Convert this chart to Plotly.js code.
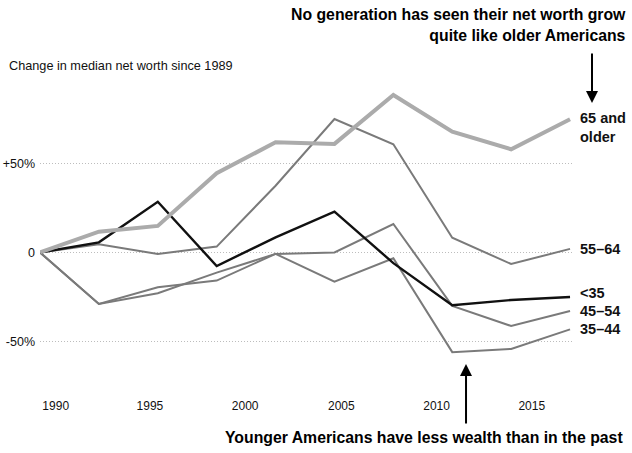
<!DOCTYPE html>
<html>
<head>
<meta charset="utf-8">
<script src="https://cdn.plot.ly/plotly-3.0.1.min.js"></script>
<style>html,body{margin:0;padding:0;background:#fff}#chart{width:632px;height:453px}</style>
</head>
<body>
<div id="chart"></div>
<script>
// Survey years
const years = [1989, 1992, 1995, 1998, 2001, 2004, 2007, 2010, 2013, 2016];
// Percent change in median net worth since 1989, by age of household head
const age65plus = [0, 11.7, 14.9, 44.5, 61.9, 61.0, 88.5, 67.9, 58.0, 74.8];
const age55to64 = [0, 4.6, -0.8, 3.3, 37.5, 75.0, 60.8, 8.3, -6.5, 2.0];
const ageUnder35 = [0, 5.7, 28.5, -7.6, 8.5, 22.9, -6.0, -29.7, -26.7, -25.0];
const age45to54 = [0, -28.9, -22.9, -11.3, -0.8, 0.0, 16.0, -30.0, -41.3, -32.9];
const age35to44 = [0, -28.9, -19.6, -15.8, -0.8, -16.4, -3.3, -56.0, -54.2, -43.2];
// Axis tick labels
const xTickLabels = ['1990', '1995', '2000', '2005', '2010', '2015'];
const yTickLabels = ['-50%', '0', '+50%'];
const yTickValues = [-50, 0, 50];
// Series labels
const seriesLabels = ['65 and<br>older', '55–64', '<35', '45–54', '35–44'];

const font = 'Liberation Sans, Arial, sans-serif';
const midGray = '#7a7a7a';

const traces = [
  {x: years, y: age55to64, line: {color: midGray, width: 2}},
  {x: years, y: age45to54, line: {color: midGray, width: 2}},
  {x: years, y: age35to44, line: {color: midGray, width: 2}},
  {x: years, y: ageUnder35, line: {color: '#111', width: 2.4}},
  {x: years, y: age65plus, line: {color: '#ababab', width: 4}}
].map(t => Object.assign({type: 'scatter', mode: 'lines', hoverinfo: 'skip', showlegend: false}, t));

// label anchor values (vertical positions of the end labels, in % units)
const labelY = [70, 2.0, -22.8, -32.9, -43.0];

const annotations = seriesLabels.map((txt, i) => ({
  x: years[years.length - 1], y: labelY[i], xref: 'x', yref: 'y',
  text: '<b>' + txt + '</b>', showarrow: false, xanchor: 'left', yanchor: 'middle',
  align: 'left', xshift: 8, font: {family: font, size: 14.5, color: '#111'}
}));

annotations.push(
  {xref: 'paper', yref: 'paper', x: 1.1053, y: 1.2436, xanchor: 'right', yanchor: 'top', align: 'right',
   showarrow: false, text: '<b>No generation has seen their net worth grow<br>quite like older Americans</b>',
   font: {family: font, size: 15.8, color: '#000'}},
  {xref: 'paper', yref: 'paper', x: 1.0376, y: 0.926, ax: 0, ay: -51, text: '', showarrow: true,
   arrowhead: 2, arrowsize: 1.2, arrowwidth: 2, arrowcolor: '#000'},
  {xref: 'paper', yref: 'paper', x: 0.8008, y: 0.0897, ax: 0, ay: 61, text: '', showarrow: true,
   arrowhead: 2, arrowsize: 1.2, arrowwidth: 2, arrowcolor: '#000'},
  {xref: 'paper', yref: 'paper', x: 1.0996, y: -0.147, xanchor: 'right', yanchor: 'middle',
   showarrow: false, text: '<b>Younger Americans have less wealth than in the past</b>',
   font: {family: font, size: 15.8, color: '#000'}}
);

const layout = {
  width: 632, height: 453,
  margin: {l: 40, r: 60, t: 80, b: 61},
  paper_bgcolor: '#fff', plot_bgcolor: '#fff',
  font: {family: font, size: 12, color: '#111'},
  title: {text: 'Change in median net worth since 1989', xref: 'container', yref: 'container',
          x: 9 / 632, xanchor: 'left', y: 1 - 66 / 453, yanchor: 'middle',
          font: {family: font, size: 12.7, color: '#111'}},
  xaxis: {range: [1989, 2016.1], showgrid: false, zeroline: false, showline: false, ticks: '',
          tickvals: [1989.8, 1994.6, 1999.45, 2004.35, 2009.2, 2014.05], ticktext: xTickLabels,
          ticklabelstandoff: 5,
          tickfont: {family: font, size: 12, color: '#111'}},
  yaxis: {range: [-78.4, 96.9], tickvals: yTickValues, ticktext: yTickLabels, showgrid: true,
          gridcolor: '#bdbdbd', griddash: '1px,2px', gridwidth: 1, zeroline: false, showline: false,
          ticks: '', ticklabelstandoff: 4, tickfont: {family: font, size: 12.5, color: '#111'}},
  annotations: annotations
};

Plotly.newPlot('chart', traces, layout, {displayModeBar: false, staticPlot: true});
</script>
</body>
</html>
